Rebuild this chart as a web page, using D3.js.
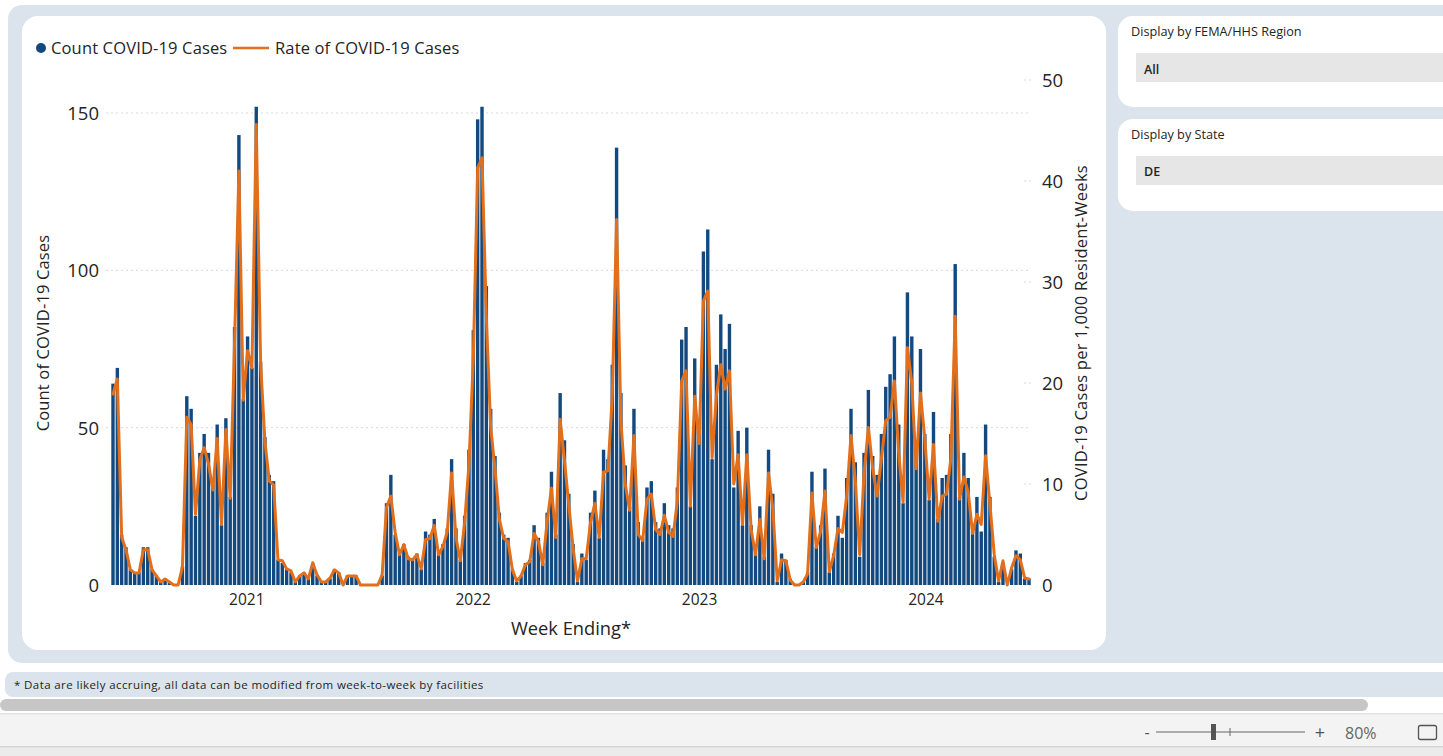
<!DOCTYPE html>
<html><head><meta charset="utf-8">
<script src="https://cdn.jsdelivr.net/npm/d3@7"></script>
<style>
html,body{margin:0;padding:0;background:#fff;overflow:hidden;}
svg{display:block;font-family:"Open Sans","Noto Sans",sans-serif;}
</style></head>
<body>
<svg id="c" width="1443" height="756"></svg>
<script>
// ---- data ----
const firstWeekEnding = "2020-05-31";
const counts = [64,69,16,12,5,4,4,12,12,5,3,1,2,1,0,0,6,60,56,22,42,48,42,32,51,19,53,28,82,143,59,79,69,152,71,47,35,33,8,7,
5,4,1,3,4,2,7,3,1,1,2,5,4,0,3,3,3,0,0,0,0,0,3,26,35,16,10,13,9,8,10,5,17,16,21,10,13,18,40,18,
8,22,43,81,148,152,95,56,41,23,16,15,5,1,3,7,8,19,15,7,23,36,16,61,46,29,13,1,10,8,23,30,15,43,40,70,139,61,38,25,
56,20,15,31,33,20,18,26,19,18,31,78,82,25,72,48,106,113,40,70,86,75,83,31,49,19,50,19,10,25,9,43,29,1,10,8,2,0,0,1,
4,36,12,19,37,4,10,22,15,34,56,39,9,42,62,41,35,48,63,67,79,51,26,93,79,40,75,48,27,55,21,34,35,48,102,28,42,34,17,28,
17,51,28,9,1,7,0,5,11,10,2,2];
const rates = [18.9,20.4,4.7,3.5,1.5,1.2,1.2,3.5,3.5,1.5,0.9,0.3,0.6,0.3,0,0,1.8,16.6,15.9,7.0,12.4,13.6,12.0,9.4,14.5,6.0,15.4,8.6,24.0,41.0,18.3,23.2,21.5,45.6,22.0,14.2,10.3,9.9,2.5,2.4,
1.6,1.4,0.3,0.9,1.2,0.6,2.2,1.0,0.3,0.3,0.7,1.5,1.2,0,0.9,0.9,0.9,0,0,0,0,0,1.0,7.7,8.8,5.2,3.0,4.0,2.6,2.5,3.0,1.6,4.5,4.6,5.9,3.0,3.8,5.3,11.1,4.7,
2.4,6.2,12.0,22.5,41.3,42.3,26.5,15.6,11.5,6.5,4.6,4.3,1.5,0.4,0.9,2.0,2.3,5.1,4.3,2.0,6.3,9.6,4.7,16.4,12.3,7.9,3.6,0.4,2.6,2.6,6.2,8.1,4.7,11.2,11.3,18.6,36.2,16.2,10.0,7.4,
14.8,5.0,4.4,8.5,9.0,5.5,5.0,6.9,5.2,4.8,8.3,20.2,21.2,7.8,18.7,14.0,28.1,29.1,12.6,18.8,21.8,19.4,21.2,10.0,12.9,6.0,12.9,5.5,3.0,6.5,2.6,11.1,7.5,0.4,2.5,2.4,0.5,0,0,0.3,
1.1,9.1,3.7,5.3,9.3,1.3,2.9,5.6,5.2,8.8,14.8,10.3,3.0,11.0,15.6,11.5,8.8,12.5,16.3,16.6,20.2,13.0,8.2,23.5,20.0,11.5,19.0,14.5,8.5,13.9,6.3,8.8,9.0,12.5,26.6,8.5,10.7,9.2,5.1,7.0,
6.0,12.8,8.0,3.0,0.4,2.4,0,1.7,2.9,2.5,0.7,0.6];
const yearTickLabels = ["2021","2022","2023","2024"];
const leftTicks = [0,50,100,150];
const rightTicks = [0,10,20,30,40,50];

const start = new Date(firstWeekEnding + "T00:00:00Z");
const weeks = counts.map((c,i)=>({date:d3.utcDay.offset(start,7*i), count:c, rate:rates[i]}));

// ---- layout ----
const svg = d3.select("#c");
const C_BLUE = "#14497f", C_ORANGE = "#e26f1b", PANEL = "#dbe4ec", TXT = "#252423";

function roundRect(x,y,w,h,r,fill){
  svg.append("rect").attr("x",x).attr("y",y).attr("width",w).attr("height",h).attr("rx",r).attr("ry",r).attr("fill",fill);
}
roundRect(8,5,1460,658,14,PANEL);
roundRect(22,16,1084,634,16,"#ffffff");
roundRect(1118,16,360,91,15,"#ffffff");
roundRect(1118,119,360,92,15,"#ffffff");
svg.append("rect").attr("x",1136).attr("y",53).attr("width",320).attr("height",29).attr("fill","#e6e6e6");
svg.append("rect").attr("x",1136).attr("y",156).attr("width",320).attr("height",29).attr("fill","#e6e6e6");
const side = [["Display by FEMA/HHS Region",36],["All",74],["Display by State",139],["DE",176]];
side.forEach(([t,y],k)=>svg.append("text").attr("x",k%2?1144:1131).attr("y",y).attr("font-size",k%2?"12.5px":"12.7px")
  .attr("font-weight",k%2?600:400).attr("fill",TXT).text(t));

// footer
roundRect(5,672,1460,25,8,PANEL);
svg.append("text").attr("x",14).attr("y",689).attr("font-size","11.5px").attr("letter-spacing","0.4px").attr("fill","#252423")
  .text("* Data are likely accruing, all data can be modified from week-to-week by facilities");
svg.append("rect").attr("x",0).attr("y",699).attr("width",1368).attr("height",12).attr("rx",6).attr("fill","#c6c6c6");
svg.append("rect").attr("x",0).attr("y",714).attr("width",1443).attr("height",32).attr("fill","#f3f3f3");
svg.append("rect").attr("x",0).attr("y",713).attr("width",1443).attr("height",1.5).attr("fill","#e4e4e4");
svg.append("rect").attr("x",0).attr("y",746).attr("width",1443).attr("height",10).attr("fill","#ebebeb");
svg.append("rect").attr("x",0).attr("y",746).attr("width",1443).attr("height",1.5).attr("fill","#d6d6d6");
svg.append("text").attr("x",1147).attr("y",738).attr("font-size","16px").attr("fill","#555").attr("text-anchor","middle").text("-");
svg.append("line").attr("x1",1156).attr("x2",1305).attr("y1",732).attr("y2",732).attr("stroke","#666").attr("stroke-width",1);
svg.append("rect").attr("x",1211).attr("y",724).attr("width",5).attr("height",16).attr("fill","#555");
svg.append("line").attr("x1",1230).attr("x2",1230).attr("y1",728).attr("y2",736).attr("stroke","#666");
svg.append("text").attr("x",1320).attr("y",739).attr("font-size","18px").attr("fill","#555").attr("text-anchor","middle").text("+");
svg.append("text").attr("x",1345).attr("y",739).attr("font-size","16px").attr("fill","#666").text("80%");
svg.append("rect").attr("x",1418.5).attr("y",725.5).attr("width",18).attr("height",14).attr("rx",2).attr("fill","none").attr("stroke","#555").attr("stroke-width",1.3);

// ---- chart ----
const x = d3.scaleUtc().domain([weeks[0].date, weeks[weeks.length-1].date]).range([113,1029]);
const yL = d3.scaleLinear().domain([0,160.5]).range([585,80]);
const yR = d3.scaleLinear().domain([0,50]).range([585,80]);

const g = svg.append("g");
// gridlines
g.append("g").selectAll("line").data(leftTicks.filter(d=>d>0)).join("line")
  .attr("x1",106).attr("x2",1028).attr("y1",d=>yL(d)).attr("y2",d=>yL(d))
  .attr("stroke","#d9d9d9").attr("stroke-width",1).attr("stroke-dasharray","2,3");
g.append("g").selectAll("line").data(rightTicks).join("line")
  .attr("x1",1024).attr("x2",1034).attr("y1",d=>yR(d)).attr("y2",d=>yR(d))
  .attr("stroke","#d9d9d9").attr("stroke-width",1).attr("stroke-dasharray","2,3");

// bars
const bw = 3.4;
g.append("g").selectAll("rect").data(weeks.filter(d=>d.count>0)).join("rect")
  .attr("x",d=>x(d.date)-bw/2).attr("width",bw)
  .attr("y",d=>yL(d.count)).attr("height",d=>yL(0)-yL(d.count))
  .attr("fill",C_BLUE);

// line
g.append("path").datum(weeks)
  .attr("d",d3.line().x(d=>x(d.date)).y(d=>yR(d.rate)))
  .attr("fill","none").attr("stroke",C_ORANGE).attr("stroke-width",3).attr("stroke-linejoin","round").attr("stroke-linecap","round");

// axes
const axL = svg.append("g").attr("transform","translate(99,0)")
  .call(d3.axisLeft(yL).tickValues(leftTicks).tickSize(0).tickPadding(0));
const axR = svg.append("g").attr("transform","translate(1042,0)")
  .call(d3.axisRight(yR).tickValues(rightTicks).tickSize(0).tickPadding(0));
const axB = svg.append("g").attr("transform","translate(0,592)")
  .call(d3.axisBottom(x).tickValues(yearTickLabels.map(y=>new Date(Date.UTC(+y,0,1)))).tickFormat(d3.utcFormat("%Y")).tickSize(0).tickPadding(0));
[axL,axR,axB].forEach(a=>{a.select(".domain").remove();
  a.selectAll("text").attr("fill",TXT).attr("font-family","'Open Sans','Noto Sans',sans-serif");});
axL.selectAll("text").attr("font-size","18.5px").attr("dy","0.35em");
axR.selectAll("text").attr("font-size","18.5px").attr("dy","0.35em");
axB.selectAll("text").attr("font-size","15.5px").attr("dy","0.85em");

// axis titles
svg.append("text").attr("transform","translate(49,333) rotate(-90)").attr("text-anchor","middle")
  .attr("font-size","16.5px").attr("letter-spacing","0.15px").attr("fill",TXT).text("Count of COVID-19 Cases");
svg.append("text").attr("transform","translate(1087,333) rotate(-90)").attr("text-anchor","middle")
  .attr("font-size","16.5px").attr("letter-spacing","0.25px").attr("fill",TXT).text("COVID-19 Cases per 1,000 Resident-Weeks");
svg.append("text").attr("x",571).attr("y",635).attr("text-anchor","middle")
  .attr("font-size","18.3px").attr("fill",TXT).text("Week Ending*");

// legend
svg.append("circle").attr("cx",41).attr("cy",48).attr("r",5).attr("fill",C_BLUE);
svg.append("text").attr("x",51).attr("y",54).attr("font-size","16.5px").attr("letter-spacing","0.15px").attr("fill",TXT).text("Count COVID-19 Cases");
svg.append("line").attr("x1",233).attr("x2",269).attr("y1",48).attr("y2",48).attr("stroke",C_ORANGE).attr("stroke-width",2.5);
svg.append("text").attr("x",275).attr("y",54).attr("font-size","16.5px").attr("letter-spacing","0.15px").attr("fill",TXT).text("Rate of COVID-19 Cases");
</script>
</body></html>
